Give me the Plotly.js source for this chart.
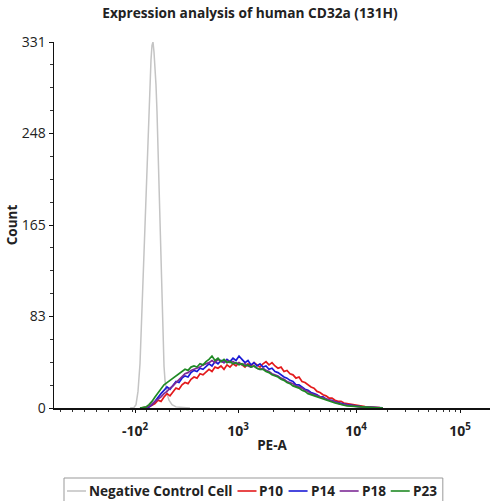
<!DOCTYPE html>
<html>
<head>
<meta charset="utf-8">
<script src="https://cdn.plot.ly/plotly-3.0.1.min.js"></script>
<style>html,body{margin:0;padding:0;background:#fff;}#chart{width:492px;height:501px;}</style>
</head>
<body>
<div id="chart"></div>
<script>
// Display channel (biexponential PE-A scale rendered as channels 0..436)
const tickChannels = [81, 184, 302, 406];
const tickLabels = ['<b>-10<sup>2</sup></b>', '<b>10<sup>3</sup></b>', '<b>10<sup>4</sup></b>', '<b>10<sup>5</sup></b>'];
const countTicks = [0, 82.75, 165.5, 248.25, 331];
const countTickLabels = ['0', '83', '165', '248', '331'];

const controlChannel = [76, 80, 82, 84, 86, 88, 90, 92, 94, 96, 97, 98, 99, 100, 101, 102, 103, 104, 105, 106, 107, 108, 109, 110, 111, 113, 115, 118, 122, 128, 136];
const controlCount = [0, 0.5, 3, 15, 40, 90, 150, 205, 255, 295, 315, 328, 331, 322, 308, 292, 268, 235, 200, 165, 125, 90, 60, 38, 25, 13, 7, 3, 1, 0.3, 0];

const sampleChannel = [86,89,92,95,98,101,104,107,110,113,116,119,122,125,128,131,134,137,140,143,146,149,152,155,158,161,164,167,170,173,176,179,182,185,188,191,194,197,200,203,206,209,212,215,218,221,224,227,230,233,236,239,242,245,248,251,254,257,260,263,266,269,272,275,278,281,284,287,290,293,296,299,302,305,308,311,314,317,320,323,326,329];

const p10 = [0,0.2,0.5,1,2.5,4,7,6,10,13,11,15,18,17,21,23,22,26,28,27,31,30,33,35,33,37,36,38,35,39,37,40,38,41,39,37,40,38,41,39,37,40,42,39,41,38,36,37,33,34,31,30,27,28,24,23,21,19,18,15,14,12,11,9,9,7,6,6,4.5,4,3.5,3,2.2,2,1.5,1.2,1,0.7,0.5,0.4,0.3,0.2];
const p14 = [0,0,0.2,1,3,6,10,13,16,19,17,21,24,23,27,29,28,32,34,33,36,35,38,40,38,42,40,43,41,44,42,45,43,47,44,41,43,39,41,38,40,37,38,35,36,33,32,30,28,27,25,24,21,21,19,17,16,14,13,12,10,10,8,7,7,5.5,5,4,3.5,3,2.5,2,1.6,1.2,1,0.8,0.6,0.4,0.3,0.2,0.1,0.1];
const p18 = [0,0,0.3,1.5,3.5,6,8,10,13,15,18,20,23,26,29,31,32,34,35,36,37,39,40,41,43,41,44,42,41,43,41,42,40,41,39,40,38,37,38,36,35,36,34,33,31,30,29,27,26,24,23,22,20,19,18,16,15,13,12,11,10,9,8,7,6,5,4.5,3.5,3,2.5,2,1.6,1.3,1,0.8,0.6,0.4,0.3,0.2,0.2,0.1,0.1];
const p23 = [0,0.3,1,3,6,10,14,18,21,23,25,27,29,31,33,35,34,37,38,37,40,39,42,44,47,43,45,42,44,41,42,40,41,39,40,38,39,37,38,36,35,35,33,32,30,29,28,26,25,23,22,20,19,18,16,15,13,12,11,10,9,8,7,6,5,4.5,4,3,2.5,2,1.8,1.4,1,0.7,0.5,0.4,0.3,0.2,0.1,0.1,0.1,0];

const controlName = 'Negative Control Cell';
const controlColor = '#c4c4c4';
const seriesNames = ['P10', 'P14', 'P18', 'P23'];
const seriesValues = [p10, p14, p18, p23];
const seriesColors = ['#e31a1c', '#1a1ad6', '#7d2a96', '#1f8a24'];

// ---- layout geometry ----
const W = 492, H = 501, ML = 54, MR = 2, MT = 42, MB = 93;
const PW = W - ML - MR, PH = H - MT - MB;
const px2x = p => (p - ML) / PW;
const py2y = p => (H - MB - p) / PH;

// minor tick positions (axis styling)
const minorX = [];
for (let c = 6; c < 81; c += 12) minorX.push(c);
for (let k = 2; k <= 9; k++) minorX.push(81 + (184 - 81) * (k - 1) / 9);
for (let k = 2; k <= 9; k++) minorX.push(184 + (302 - 184) * Math.log10(k));
for (let k = 2; k <= 9; k++) minorX.push(302 + (406 - 302) * Math.log10(k));
const minorY = [];
for (let i = 1; i < 16; i++) if (i % 4) minorY.push(331 * i / 16);

const FONT = 'Open Sans, Arial, sans-serif';
const traces = [{
  x: controlChannel, y: controlCount, type: 'scatter', mode: 'lines',
  name: controlName, line: {color: controlColor, width: 1.5}
}];
seriesNames.forEach((n, i) => traces.push({
  x: sampleChannel, y: seriesValues[i], type: 'scatter', mode: 'lines',
  name: n, line: {color: seriesColors[i], width: 1.7}
}));

// ---- manual legend (compact, like the reference) ----
const LEG_FONT = 13.6;
const ctx = document.createElement('canvas').getContext('2d');
ctx.font = 'bold ' + LEG_FONT + 'px "Open Sans"';
const legNames = [controlName].concat(seriesNames);
const legColors = [controlColor].concat(seriesColors);
const shapes = [], annotations = [];
let cx = 67;
const legY = 491;
legNames.forEach((n, i) => {
  shapes.push({type: 'line', xref: 'paper', yref: 'paper', x0: px2x(cx), x1: px2x(cx + 19), y0: py2y(legY), y1: py2y(legY),
               line: {color: legColors[i], width: 1.6}});
  cx += 21;
  annotations.push({xref: 'paper', yref: 'paper', x: px2x(cx), y: py2y(legY), xanchor: 'left', yanchor: 'middle',
                    text: '<b>' + n + '</b>', showarrow: false, borderpad: 0,
                    font: {size: LEG_FONT, family: FONT, color: '#222'}});
  cx += ctx.measureText(n).width + 6;
});
shapes.push({type: 'rect', xref: 'paper', yref: 'paper', x0: px2x(64), x1: px2x(cx + 1), y0: py2y(478), y1: py2y(506),
             line: {color: '#999', width: 1}, fillcolor: 'rgba(0,0,0,0)', layer: 'below'});

const layout = {
  width: W, height: H,
  margin: {l: ML, r: MR, t: MT, b: MB, autoexpand: false},
  paper_bgcolor: '#fff', plot_bgcolor: '#fff',
  font: {family: FONT, color: '#222'},
  title: {text: '<b>Expression analysis of human CD32a (131H)</b>', font: {size: 13.7, family: FONT, color: '#222'},
          x: 0.508, xref: 'container', y: 0.974, yref: 'container', yanchor: 'middle'},
  xaxis: {
    range: [0, 436], showgrid: false, zeroline: false, automargin: false,
    showline: true, linecolor: '#111', linewidth: 1.5,
    tickmode: 'array', tickvals: tickChannels, ticktext: tickLabels,
    ticks: 'outside', ticklen: 3, tickcolor: '#111', tickwidth: 1,
    ticklabelstandoff: 7,
    tickfont: {size: 14, family: FONT, color: '#222'},
    minor: {tickmode: 'array', tickvals: minorX, ticks: 'outside', ticklen: 2, tickcolor: '#333', tickwidth: 1},
    title: {text: '<b>PE-A</b>', font: {size: 13.5, family: FONT, color: '#222'}, standoff: 1}
  },
  yaxis: {
    range: [0, 331], showgrid: false, zeroline: false, automargin: false,
    showline: true, linecolor: '#111', linewidth: 1.5,
    tickmode: 'array', tickvals: countTicks, ticktext: countTickLabels,
    ticks: 'outside', ticklen: 4, tickcolor: '#111', tickwidth: 1,
    ticklabelstandoff: 0,
    tickfont: {size: 14, family: FONT, color: '#222'},
    minor: {tickmode: 'array', tickvals: minorY, ticks: 'outside', ticklen: 2.5, tickcolor: '#333', tickwidth: 1},
    title: {text: '<b>Count</b>', font: {size: 13.5, family: FONT, color: '#222'}, standoff: 1}
  },
  showlegend: false,
  shapes: shapes,
  annotations: annotations
};

Plotly.newPlot('chart', traces, layout, {displayModeBar: false, staticPlot: true});
</script>
</body>
</html>
